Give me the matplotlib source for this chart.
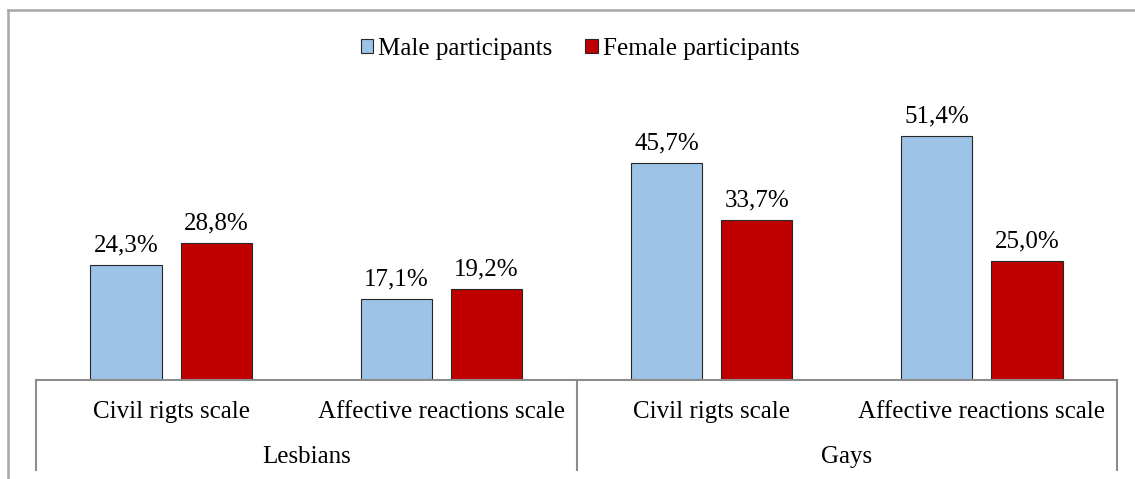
import matplotlib.pyplot as plt
from matplotlib.transforms import blended_transform_factory
from matplotlib.lines import Line2D

plt.rcParams['font.family'] = ['Liberation Serif', 'DejaVu Serif']

categories = ["Civil rigts scale", "Affective reactions scale",
              "Civil rigts scale", "Affective reactions scale"]
groups = ["Lesbians", "Gays"]
male = [24.3, 17.1, 45.7, 51.4]
female = [28.8, 19.2, 33.7, 25.0]
series_names = ["Male participants", "Female participants"]

W, H = 1135, 479
fig = plt.figure(figsize=(W / 100, H / 100), dpi=100)
# plot area in pixels: x 36..1117, baseline y=380, top y=95
ax = fig.add_axes([36 / W, 1 - 380 / H, 1081 / W, 285 / H])

x = list(range(len(categories)))
bw = 0.263
off = 0.167
b1 = ax.bar([i - off for i in x], male, bw, color="#9DC3E6",
            edgecolor="#262626", linewidth=0.8, label=series_names[0])
b2 = ax.bar([i + off for i in x], female, bw, color="#C00000",
            edgecolor="#262626", linewidth=0.8, label=series_names[1])
for bars, vals in ((b1, male), (b2, female)):
    ax.bar_label(bars, labels=[f"{v:.1f}%".replace(".", ",") for v in vals],
                 padding=6, fontsize=18, color="#000000")

ax.set_xlim(-0.5, 3.5)
ax.set_ylim(0, 60)
ax.set_yticks([])
ax.set_xticks(x)
ax.set_xticklabels(categories, fontsize=18)
ax.tick_params(axis="x", length=0, pad=15)
for s in ("top", "right", "left"):
    ax.spines[s].set_visible(False)
ax.spines["bottom"].set_color("#8C8C8C")
ax.spines["bottom"].set_linewidth(1.5)

tr = blended_transform_factory(ax.transData, ax.transAxes)
for xs in (-0.5, 1.5, 3.5):
    ax.plot([xs, xs], [0, -90 / 285], transform=tr, color="#8C8C8C",
            lw=1.5, clip_on=False)
for gi, g in enumerate(groups):
    ax.text(gi * 2 + 0.5, -77 / 285, g, transform=tr, ha="center",
            va="center", fontsize=18)

# outer chart border (left and top visible)
fx0 = 8 / W
fy0 = 1 - 10 / H
fig.add_artist(Line2D([fx0, fx0], [0, fy0], color="#A6A6A6", lw=1.8,
                      transform=fig.transFigure))
fig.add_artist(Line2D([fx0, 1], [fy0, fy0], color="#A6A6A6", lw=1.8,
                      transform=fig.transFigure))

fig.legend(handles=[b1, b2], loc="center", bbox_to_anchor=(580 / W, 1 - 49 / H),
           ncol=2, frameon=False, fontsize=18, handlelength=0.5,
           handleheight=0.5, handletextpad=0.2, columnspacing=1.3)

fig.savefig("out.png", dpi=100)
